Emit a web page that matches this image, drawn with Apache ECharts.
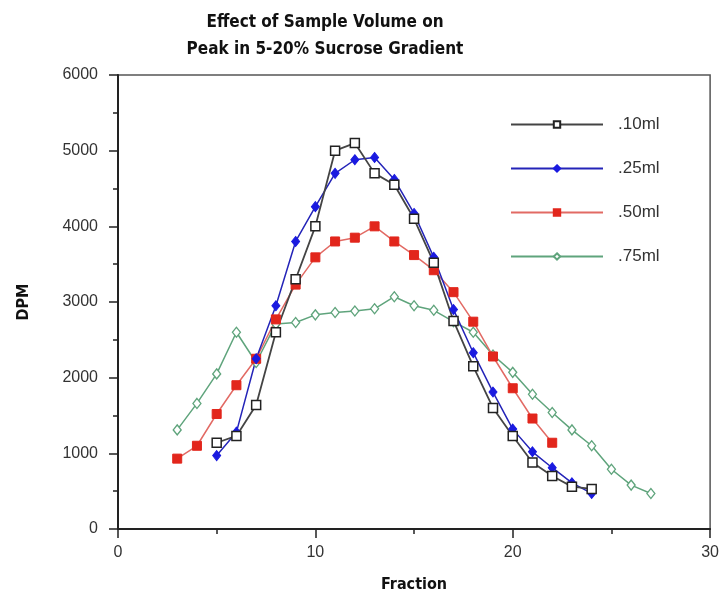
<!DOCTYPE html>
<html>
<head>
<meta charset="utf-8">
<script src="https://cdn.jsdelivr.net/npm/echarts@6/dist/echarts.min.js"></script>
<style>html,body{margin:0;padding:0;background:#fff;}#c{width:722px;height:598px;}</style>
</head>
<body>
<div id="c"></div>
<script>
const titleLines = ['Effect of Sample Volume on', 'Peak in 5-20% Sucrose Gradient'];
const xName = 'Fraction';
const yName = 'DPM';
const seriesNames = ['.10ml', '.25ml', '.50ml', '.75ml'];

const frac10 = [5,6,7,8,9,10,11,12,13,14,15,16,17,18,19,20,21,22,23,24];
const dpm10  = [1140,1230,1640,2600,3300,4000,5000,5100,4700,4550,4100,3520,2750,2150,1600,1230,880,700,560,530];

const frac25 = [5,6,7,8,9,10,11,12,13,14,15,16,17,18,19,20,21,22,23,24];
const dpm25  = [970,1280,2250,2950,3800,4260,4700,4880,4910,4620,4170,3590,2900,2330,1810,1320,1020,810,610,470];

const frac50 = [3,4,5,6,7,8,9,10,11,12,13,14,15,16,17,18,19,20,21,22];
const dpm50  = [930,1100,1520,1900,2250,2770,3230,3590,3800,3850,4000,3800,3620,3420,3130,2740,2280,1860,1460,1140];

const frac75 = [3,4,5,6,7,8,9,10,11,12,13,14,15,16,17,18,19,20,21,22,23,24,25,26,27];
const dpm75  = [1310,1660,2050,2600,2200,2710,2730,2830,2860,2880,2910,3070,2950,2890,2740,2600,2300,2070,1780,1540,1310,1100,790,580,470];

const zip = (xs, ys) => xs.map((x, i) => [x, ys[i]]);

const chart = echarts.init(document.getElementById('c'), null, {renderer: 'canvas'});
const labelFont = {fontFamily: 'Liberation Sans', fontSize: 16, color: '#333'};
const axisNameFont = {fontFamily: 'DejaVu Sans Condensed', fontWeight: 'bold', fontSize: 16, color: '#111'};

chart.setOption({
  animation: false,
  backgroundColor: '#fff',
  title: {
    text: titleLines.join('\n'),
    left: 320, top: 4, textAlign: 'center',
    textStyle: {fontFamily: 'DejaVu Sans Condensed', fontWeight: 'bold', fontSize: 17, lineHeight: 27, color: '#111'}
  },
  grid: {left: 118, right: 10, top: 75, bottom: 68, show: true, borderColor: '#555', borderWidth: 1.5, backgroundColor: 'transparent'},
  legend: {
    orient: 'vertical', left: 505, top: 111,
    itemWidth: 92, itemHeight: 8, itemGap: 27,
    data: seriesNames,
    textStyle: {fontFamily: 'Liberation Sans', fontSize: 17, color: '#333', padding: [0, 0, 0, 10]}
  },
  xAxis: {
    type: 'value', min: 0, max: 30, interval: 10,
    name: xName, nameLocation: 'middle', nameGap: 48,
    nameTextStyle: axisNameFont,
    axisLine: {show: true, lineStyle: {color: '#222', width: 2}},
    axisTick: {show: true, length: 9, lineStyle: {color: '#222', width: 1.5}},
    minorTick: {show: true, splitNumber: 2, length: 5, lineStyle: {color: '#222', width: 1.5}},
    axisLabel: Object.assign({margin: 16, formatter: v => String(v)}, labelFont),
    splitLine: {show: false}
  },
  yAxis: {
    type: 'value', min: 0, max: 6000, interval: 1000,
    name: yName, nameLocation: 'middle', nameGap: 86, nameRotate: 90,
    nameTextStyle: axisNameFont,
    axisLine: {show: true, lineStyle: {color: '#222', width: 2}},
    axisTick: {show: true, length: 9, lineStyle: {color: '#222', width: 1.5}},
    minorTick: {show: true, splitNumber: 2, length: 5, lineStyle: {color: '#222', width: 1.5}},
    axisLabel: Object.assign({margin: 20, formatter: v => String(v)}, labelFont),
    splitLine: {show: false}
  },
  series: [
    {
      name: seriesNames[3], type: 'line', data: zip(frac75, dpm75),
      symbol: 'diamond', symbolSize: [8, 10], showAllSymbol: true,
      lineStyle: {color: '#5fa47c', width: 1.5},
      itemStyle: {color: '#fff', borderColor: '#5fa47c', borderWidth: 1.3}
    },
    {
      name: seriesNames[2], type: 'line', data: zip(frac50, dpm50),
      symbol: 'rect', symbolSize: 9, showAllSymbol: true,
      lineStyle: {color: '#e26a64', width: 1.5},
      itemStyle: {color: '#e2261c', borderColor: '#e2261c', borderWidth: 1}
    },
    {
      name: seriesNames[2] + ' dot', type: 'scatter', data: zip(frac50, dpm50),
      symbol: 'rect', symbolSize: 2, silent: true,
      itemStyle: {color: '#fff'}
    },
    {
      name: seriesNames[1], type: 'line', data: zip(frac25, dpm25),
      symbol: 'diamond', symbolSize: [8, 10], showAllSymbol: true,
      lineStyle: {color: '#2424b8', width: 1.5},
      itemStyle: {color: '#1a1ae0', borderColor: '#1a1ae0', borderWidth: 1}
    },
    {
      name: seriesNames[0], type: 'line', data: zip(frac10, dpm10),
      symbol: 'rect', symbolSize: 9, showAllSymbol: true,
      lineStyle: {color: '#444', width: 1.8},
      itemStyle: {color: '#fff', borderColor: '#222', borderWidth: 1.5}
    },
    {
      name: seriesNames[0] + ' dot', type: 'scatter', data: zip(frac10, dpm10),
      symbol: 'rect', symbolSize: 2, silent: true,
      itemStyle: {color: '#333'}
    }
  ]
});
</script>
</body>
</html>
